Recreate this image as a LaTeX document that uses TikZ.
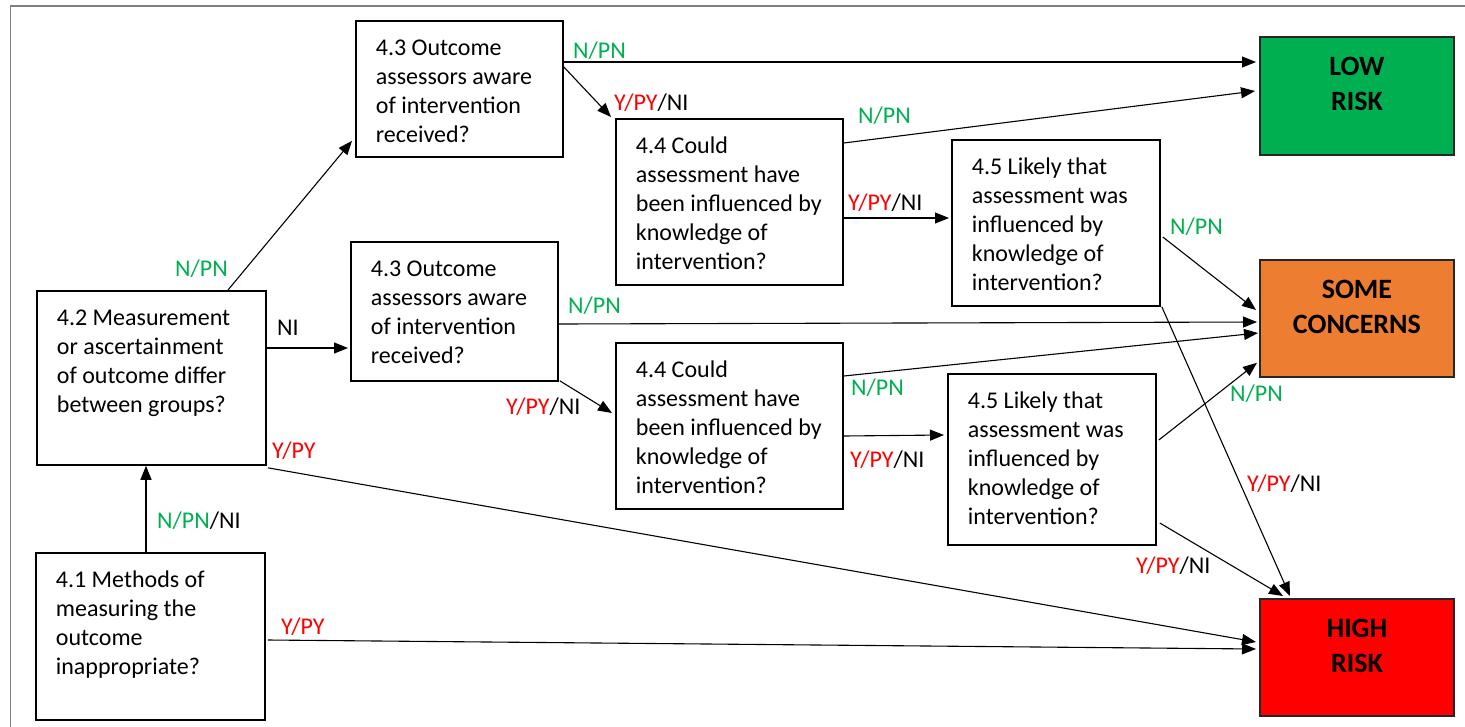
\documentclass[tikz,border=0pt]{standalone}
\usepackage{fontspec}
\setmainfont{Carlito}
\usetikzlibrary{arrows.meta}

\definecolor{lowgreen}{HTML}{00B050}
\definecolor{someorange}{HTML}{ED7D31}
\definecolor{highred}{HTML}{FF0000}
\definecolor{ansgreen}{HTML}{00B050}
\definecolor{ansred}{HTML}{FF0000}
\definecolor{framegray}{HTML}{808080}

% question box body: width, height, lines (top aligned, left inset)
\newcommand\qtext[3]{\parbox[c][#2][t]{#1}{\fontsize{24}{29}\selectfont
  \leftskip=20pt\relax\vspace*{14pt}\strut#3}}
% judgement box body: width, height, lines (bold, centred)
\newcommand\rtext[3]{\parbox[c][#2][t]{#1}{\fontsize{28}{35}\selectfont
  \bfseries\centering\vspace*{14.5pt}\strut#3}}
\newcommand\ansN{\textcolor{ansgreen}{N/PN}}
\newcommand\ansY{\textcolor{ansred}{Y/PY}}

\tikzset{
  qbox/.style={draw, line width=1.8pt, inner sep=0pt, anchor=north west},
  rbox/.style={draw=black!85, line width=1.8pt, inner sep=0pt, anchor=north west},
  conn/.style={line width=1.1pt, -{Triangle[length=14pt,width=11pt]}},
  ans/.style={inner sep=0pt, anchor=base west, font=\fontsize{24}{29}\selectfont},
}

\begin{document}
\begin{tikzpicture}[x=1pt,y=-1pt]
\useasboundingbox (0,0) rectangle (1465,726);
% outer frame
\draw[framegray, line width=1.5pt] (10.5,727) -- (10.5,6) -- (1466,6);

% questions
\node[qbox] (q41) at (35,552) {\qtext{229pt}{167pt}{4.1 Methods of\\measuring the\\outcome\\inappropriate?}};
\node[qbox] (q42) at (36,290) {\qtext{229pt}{174pt}{4.2 Measurement\\or ascertainment\\of outcome differ\\between groups?}};
\node[qbox] (q43a) at (355,20) {\qtext{207pt}{136pt}{4.3 Outcome\\assessors aware\\of intervention\\received?}};
\node[qbox] (q43b) at (350,241) {\qtext{207pt}{139pt}{4.3 Outcome\\assessors aware\\of intervention\\received?}};
\node[qbox] (q44a) at (615,118) {\qtext{227pt}{166pt}{4.4 Could\\assessment have\\been influenced by\\knowledge of\\intervention?}};
\node[qbox] (q44b) at (615,342) {\qtext{227pt}{166pt}{4.4 Could\\assessment have\\been influenced by\\knowledge of\\intervention?}};
\node[qbox] (q45a) at (951,139) {\qtext{208pt}{166pt}{4.5 Likely that\\assessment was\\influenced by\\knowledge of\\intervention?}};
\node[qbox] (q45b) at (947,373) {\qtext{208pt}{171pt}{4.5 Likely that\\assessment was\\influenced by\\knowledge of\\intervention?}};

% judgements
\node[rbox, fill=lowgreen] (low) at (1259,36) {\rtext{194pt}{118pt}{LOW\\RISK}};
\node[rbox, fill=someorange] (some) at (1259,259) {\rtext{194pt}{117pt}{SOME\\CONCERNS}};
\node[rbox, fill=highred] (high) at (1259,598) {\rtext{194pt}{117pt}{HIGH\\RISK}};

% connectors
\draw[conn] ([shift={(111,0)}]q41.north west) -- ([shift={(110,0)}]q42.south west);
\draw[conn] ([shift={(192,0)}]q42.north west) -- ([shift={(-3,-17)}]q43a.south west);
\draw[conn] ([shift={(0,58)}]q42.north east) -- ([shift={(-2,107)}]q43b.north west);
\draw[conn] ([shift={(1,2)}]q42.south east) -- ([shift={(-3,44)}]high.north west);
\draw[conn] ([shift={(2,88)}]q41.north east) -- ([shift={(-3,51)}]high.north west);
\draw[conn] ([shift={(0,42)}]q43a.north east) -- ([shift={(-3,26)}]low.north west);
\draw[conn] ([shift={(0,47)}]q43a.north east) -- ([shift={(-4,-1)}]q44a.north west);
\draw[conn] ([shift={(0,25)}]q44a.north east) -- ([shift={(-4,55)}]low.north west);
\draw[conn] ([shift={(0,100)}]q44a.north east) -- ([shift={(-2,79)}]q45a.north west);
\draw[conn] ([shift={(2,98)}]q45a.north east) -- ([shift={(-3,51)}]some.north west);
\draw[conn] ([shift={(1,0)}]q45a.south east) -- ([shift={(31,-2)}]high.north west);
\draw[conn] ([shift={(0,83)}]q43b.north east) -- ([shift={(-2,63)}]some.north west);
\draw[conn] ([shift={(1,-1)}]q43b.south east) -- ([shift={(-3,71)}]q44b.north west);
\draw[conn] ([shift={(0,34)}]q44b.north east) -- ([shift={(-1,74)}]some.north west);
\draw[conn] ([shift={(0,94)}]q44b.north east) -- ([shift={(-3,62)}]q45b.north west);
\draw[conn] ([shift={(2,67)}]q45b.north east) -- ([shift={(-2,-15)}]some.south west);
\draw[conn] ([shift={(3,150)}]q45b.north east) -- ([shift={(24,-2)}]high.north west);

% answer labels
\node[ans] (l1) at (157,528) {\ansN/NI};
\node[ans] (l2) at (175,276) {\ansN};
\node[ans] (l3) at (277,335) {NI};
\node[ans] (l4) at (272,458) {\ansY};
\node[ans] (l5) at (281,634) {\ansY};
\node[ans] (l6) at (573,58) {\ansN};
\node[ans] (l7) at (614,110) {\ansY/NI};
\node[ans] (l8) at (858,123) {\ansN};
\node[ans] (l9) at (848,210) {\ansY/NI};
\node[ans] (l10) at (1170,234) {\ansN};
\node[ans] (l11) at (1247,491) {\ansY/NI};
\node[ans] (l12) at (568,313) {\ansN};
\node[ans] (l13) at (506,414) {\ansY/NI};
\node[ans] (l14) at (851,395) {\ansN};
\node[ans] (l15) at (850,467) {\ansY/NI};
\node[ans] (l16) at (1230,401) {\ansN};
\node[ans] (l17) at (1136,573) {\ansY/NI};
\end{tikzpicture}
\end{document}
